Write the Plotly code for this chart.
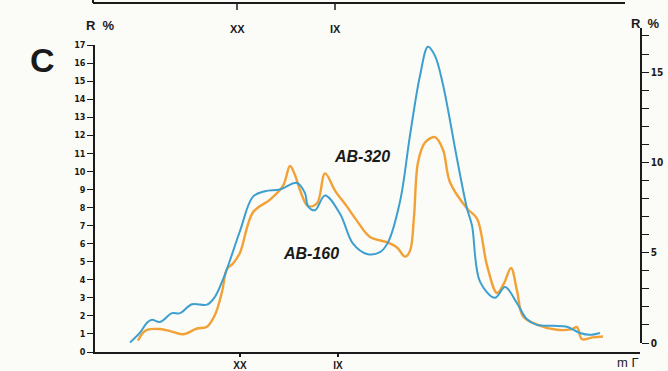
import plotly.graph_objects as go

# ---- data (position along profile, arbitrary units) ----
blue_x = [35, 45, 52, 57, 65, 77, 85, 97, 112, 120, 127, 132, 145, 158, 170, 185, 202, 210, 213, 220,
          230, 245, 258, 272, 285, 293, 305, 315, 325, 333, 340, 348, 362, 372, 377, 385, 400, 410,
          422, 432, 442, 458, 472, 485, 495, 505]
blue_y = [0.53, 1.07, 1.62, 1.78, 1.66, 2.15, 2.15, 2.64, 2.62, 3.06, 3.88, 4.6, 6.7, 8.6, 8.9, 9.0,
          9.36, 8.8, 8.08, 7.85, 8.67, 7.66, 6.0, 5.43, 5.53, 6.07, 8.33, 12.0, 15.3, 16.9, 16.4, 14.8,
          10.7, 7.95, 7.0, 3.9, 3.0, 3.6, 2.7, 1.81, 1.5, 1.45, 1.4, 1.05, 0.95, 1.05]

orange_x = [43, 48, 52, 65, 75, 88, 102, 112, 120, 127, 132, 138, 145, 158, 175, 188, 195, 200, 205,
            213, 222, 230, 240, 252, 262, 275, 292, 302, 310, 315, 319, 323, 330, 340, 348, 355, 372,
            382, 392, 402, 409, 416, 422, 428, 442, 462, 477, 482, 487, 498, 508]
orange_y = [0.63, 1.07, 1.23, 1.27, 1.16, 0.98, 1.3, 1.4, 2.06, 3.33, 4.6, 4.9, 5.5, 7.74, 8.44, 9.2,
            10.3, 9.8, 8.97, 8.08, 8.23, 9.89, 8.94, 8.05, 7.26, 6.37, 6.08, 5.79, 5.28, 5.6, 7.5, 10.5,
            11.6, 11.9, 11.2, 9.4, 7.95, 7.39, 4.8, 3.27, 3.8, 4.65, 3.4, 1.98, 1.52, 1.23, 1.27, 1.38,
            0.71, 0.81, 0.86]

x_tick_vals = [145, 243]
x_tick_text = ["XX", "IX"]
left_ticks = list(range(0, 18))
right_ticks = [0, 5, 10, 15]

BLUE = "#3d9fd0"
ORANGE = "#f2a136"
INK = "#1a1a1a"
BG = "#fbfbf7"
TICKFONT = "Liberation Sans Narrow, DejaVu Sans Condensed, Liberation Sans, Arial"

fig = go.Figure()
# empty trace so that the right-hand scale is drawn (added first so it sits underneath)
fig.add_trace(go.Scatter(x=[None], y=[None], xaxis="x", yaxis="y2", mode="lines",
                         hoverinfo="skip", showlegend=False))
fig.add_trace(go.Scatter(x=orange_x, y=orange_y, mode="lines", name="AB-320",
                         line=dict(color=ORANGE, width=2.4, shape="spline", smoothing=1.0)))
fig.add_trace(go.Scatter(x=blue_x, y=blue_y, mode="lines", name="AB-160",
                         line=dict(color=BLUE, width=2.0, shape="spline", smoothing=1.0)))

# pixel helpers (plot area: x 95..640, y 28..352)
L, R, T, B = 95, 640, 28, 352
def px(xp):
    return (xp - L) / (R - L)
def py(yp):
    return (B - yp) / (B - T)

fig.update_layout(
    width=668, height=371,
    margin=dict(l=L, r=668 - R, t=T, b=371 - B),
    paper_bgcolor=BG, plot_bgcolor="rgba(0,0,0,0)",
    showlegend=False,
    xaxis=dict(range=[0, R - L], showgrid=False, zeroline=False, showline=True, automargin=False,
               linecolor=INK, linewidth=1.5, ticks="outside", ticklen=3, tickwidth=1.5,
               tickcolor=INK, tickvals=x_tick_vals, ticktext=x_tick_text,
               tickfont=dict(family="Liberation Sans, Arial", size=10, color=INK, weight="bold"),
               anchor="y"),
    yaxis=dict(domain=[0, py(45)], range=[0, 17], showgrid=False, zeroline=False, automargin=False,
               showline=True, linecolor=INK, linewidth=1.5, ticks="outside", ticklen=6,
               tickwidth=1.3, tickcolor=INK, tickvals=left_ticks,
               tickfont=dict(family=TICKFONT, size=9, color=INK, weight="bold"), anchor="x"),
    yaxis2=dict(domain=[py(343), 1], range=[0, (343 - T) / 18.06], showgrid=False, automargin=False,
                zeroline=False, showline=True, linecolor=INK, linewidth=1.5, side="right",
                anchor="x", ticks="outside", ticklen=7, tickwidth=1.3, tickcolor=INK,
                tickvals=right_ticks,
                minor=dict(dtick=1, tick0=0, ticks="outside", ticklen=7, tickwidth=1.3,
                           tickcolor=INK),
                tickfont=dict(family=TICKFONT, size=10, color=INK, weight="bold")),
)

# remnant of upper panel: bottom border with ticks and labels
fig.add_shape(type="line", xref="paper", yref="paper", x0=px(93), x1=px(625), y0=py(3), y1=py(3),
              line=dict(color=INK, width=2))
fig.add_shape(type="line", xref="paper", yref="paper", x0=px(93), x1=px(93), y0=py(3), y1=py(-2),
              line=dict(color=INK, width=2))
for xv in x_tick_vals:
    fig.add_shape(type="line", xref="x", yref="paper", x0=xv - 3, x1=xv - 3, y0=py(3), y1=py(10),
                  line=dict(color=INK, width=1.5))
for xv, t in zip(x_tick_vals, x_tick_text):
    fig.add_annotation(x=xv - 3, xref="x", y=py(21), yref="paper", text="<b>" + t + "</b>",
                       showarrow=False, xanchor="center",
                       font=dict(family="Liberation Sans, Arial", size=11, color=INK))

ann = [
    ("<b>C</b>", px(42), py(60), 34, "Liberation Sans, Arial"),
    ("<b>R  %</b>", px(100), py(26), 13, "Liberation Sans, Arial"),
    ("<b>R  %</b>", px(645), py(24), 13, "Liberation Sans, Arial"),
    ("m Γ", px(628), py(362), 13, "Liberation Sans, Arial"),
]
for t, x, y, s, f in ann:
    fig.add_annotation(x=x, y=y, xref="paper", yref="paper", text=t, showarrow=False,
                       xanchor="center", yanchor="middle",
                       font=dict(family=f, size=s, color=INK))

fig.add_annotation(x=px(362), y=py(156), xref="paper", yref="paper", text="<b><i>AB-320</i></b>",
                   showarrow=False, xanchor="center",
                   font=dict(family="Liberation Sans, Arial", size=16, color=INK))
fig.add_annotation(x=px(311), y=py(264), xref="paper", yref="paper", text="<b><i>AB-160</i></b>",
                   showarrow=False, xanchor="center",
                   font=dict(family="Liberation Sans, Arial", size=16, color=INK))

fig.write_html("out.html")
